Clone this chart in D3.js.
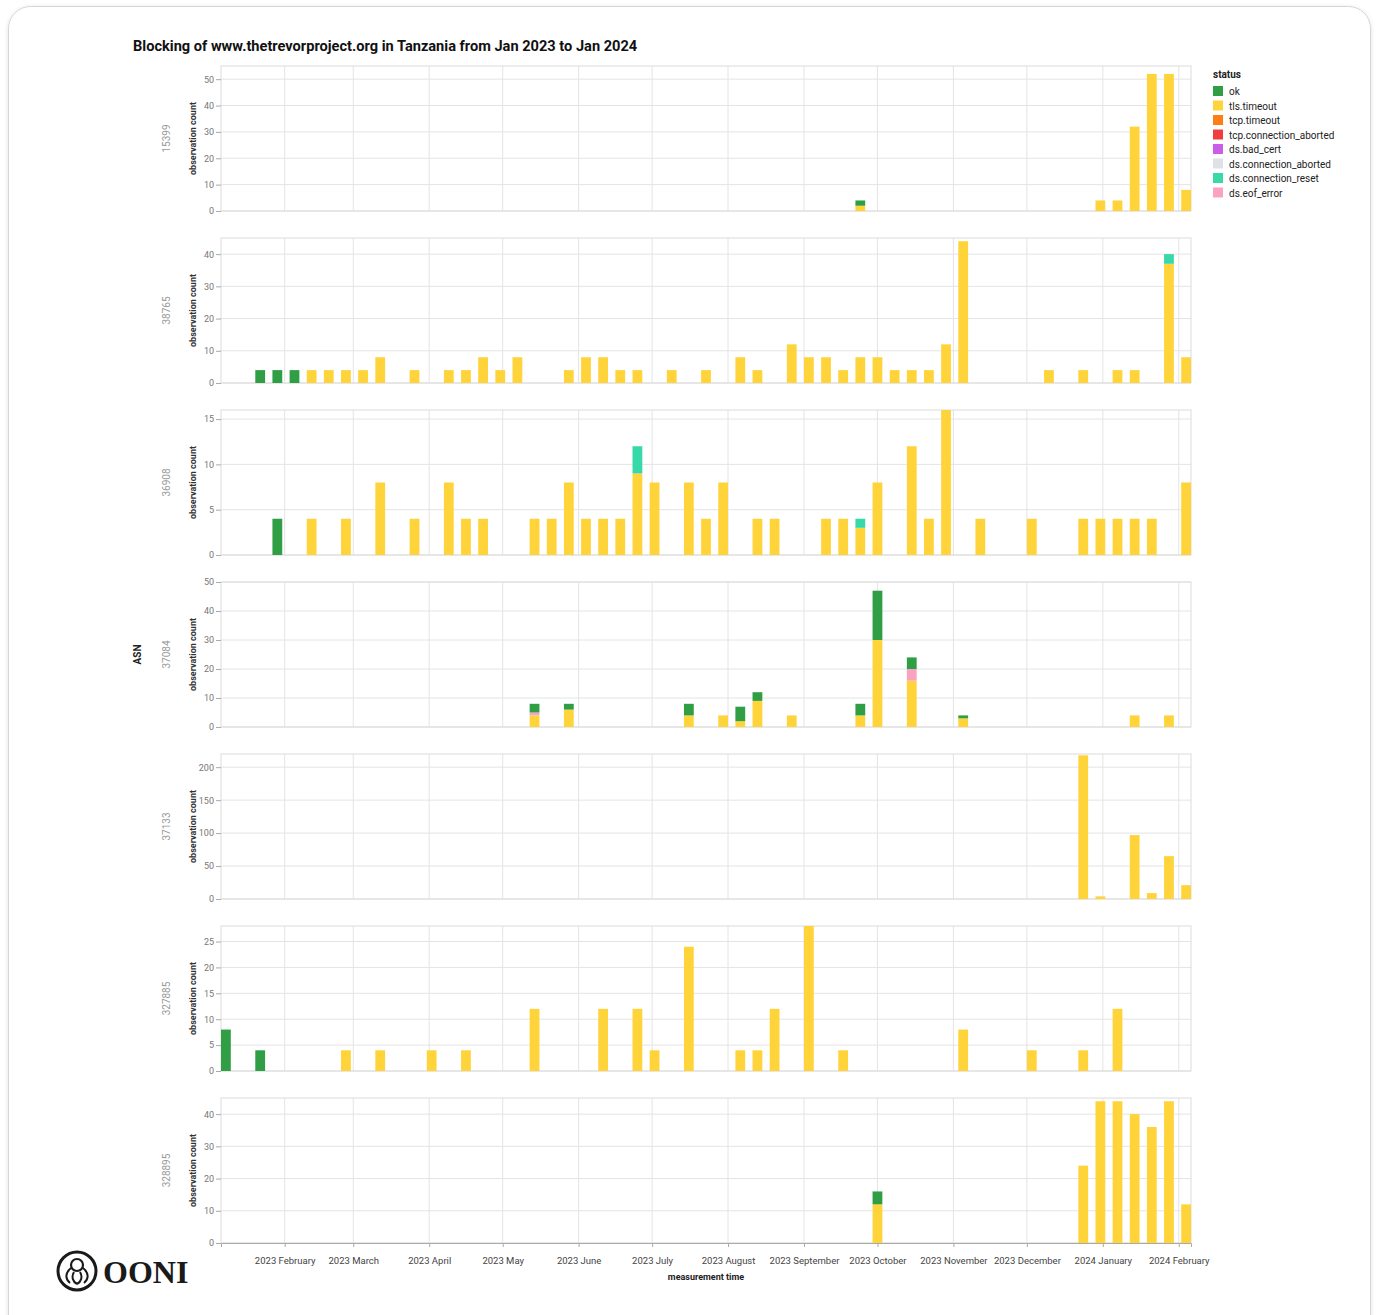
<!DOCTYPE html>
<html>
<head>
<meta charset="utf-8">
<script src="https://cdn.jsdelivr.net/npm/d3@7"></script>
<style>
  body { margin: 0; background: #fff; font-family: Roboto, "Noto Sans", sans-serif; }
  .tick text { font-family: Roboto, sans-serif; }
</style>
</head>
<body>
<script>
// weekly observation counts per ASN, columns = [week, ok, tls.timeout, ds.connection_reset, ds.eof_error]
var columns = ["ok", "tls.timeout", "ds.connection_reset", "ds.eof_error"];

var asn15399 = [
  ["2023-09-22", 2, 2, 0, 0],
  ["2023-12-29", 0, 4, 0, 0],
  ["2024-01-05", 0, 4, 0, 0],
  ["2024-01-12", 0, 32, 0, 0],
  ["2024-01-19", 0, 52, 0, 0],
  ["2024-01-26", 0, 52, 0, 0],
  ["2024-02-02", 0, 8, 0, 0]
];

var asn38765 = [
  ["2023-01-20", 4, 0, 0, 0], ["2023-01-27", 4, 0, 0, 0], ["2023-02-03", 4, 0, 0, 0],
  ["2023-02-10", 0, 4, 0, 0], ["2023-02-17", 0, 4, 0, 0], ["2023-02-24", 0, 4, 0, 0],
  ["2023-03-03", 0, 4, 0, 0], ["2023-03-10", 0, 8, 0, 0], ["2023-03-24", 0, 4, 0, 0],
  ["2023-04-07", 0, 4, 0, 0], ["2023-04-14", 0, 4, 0, 0], ["2023-04-21", 0, 8, 0, 0],
  ["2023-04-28", 0, 4, 0, 0], ["2023-05-05", 0, 8, 0, 0], ["2023-05-26", 0, 4, 0, 0],
  ["2023-06-02", 0, 8, 0, 0], ["2023-06-09", 0, 8, 0, 0], ["2023-06-16", 0, 4, 0, 0],
  ["2023-06-23", 0, 4, 0, 0], ["2023-07-07", 0, 4, 0, 0], ["2023-07-21", 0, 4, 0, 0],
  ["2023-08-04", 0, 8, 0, 0], ["2023-08-11", 0, 4, 0, 0], ["2023-08-25", 0, 12, 0, 0],
  ["2023-09-01", 0, 8, 0, 0], ["2023-09-08", 0, 8, 0, 0], ["2023-09-15", 0, 4, 0, 0],
  ["2023-09-22", 0, 8, 0, 0], ["2023-09-29", 0, 8, 0, 0], ["2023-10-06", 0, 4, 0, 0],
  ["2023-10-13", 0, 4, 0, 0], ["2023-10-20", 0, 4, 0, 0], ["2023-10-27", 0, 12, 0, 0],
  ["2023-11-03", 0, 44, 0, 0], ["2023-12-08", 0, 4, 0, 0], ["2023-12-22", 0, 4, 0, 0],
  ["2024-01-05", 0, 4, 0, 0], ["2024-01-12", 0, 4, 0, 0], ["2024-01-26", 0, 37, 3, 0],
  ["2024-02-02", 0, 8, 0, 0]
];

var asn36908 = [
  ["2023-01-27", 4, 0, 0, 0], ["2023-02-10", 0, 4, 0, 0], ["2023-02-24", 0, 4, 0, 0],
  ["2023-03-10", 0, 8, 0, 0], ["2023-03-24", 0, 4, 0, 0], ["2023-04-07", 0, 8, 0, 0],
  ["2023-04-14", 0, 4, 0, 0], ["2023-04-21", 0, 4, 0, 0], ["2023-05-12", 0, 4, 0, 0],
  ["2023-05-19", 0, 4, 0, 0], ["2023-05-26", 0, 8, 0, 0], ["2023-06-02", 0, 4, 0, 0],
  ["2023-06-09", 0, 4, 0, 0], ["2023-06-16", 0, 4, 0, 0], ["2023-06-23", 0, 9, 3, 0],
  ["2023-06-30", 0, 8, 0, 0], ["2023-07-14", 0, 8, 0, 0], ["2023-07-21", 0, 4, 0, 0],
  ["2023-07-28", 0, 8, 0, 0], ["2023-08-11", 0, 4, 0, 0], ["2023-08-18", 0, 4, 0, 0],
  ["2023-09-08", 0, 4, 0, 0], ["2023-09-15", 0, 4, 0, 0], ["2023-09-22", 0, 3, 1, 0],
  ["2023-09-29", 0, 8, 0, 0], ["2023-10-13", 0, 12, 0, 0], ["2023-10-20", 0, 4, 0, 0],
  ["2023-10-27", 0, 16, 0, 0], ["2023-11-10", 0, 4, 0, 0], ["2023-12-01", 0, 4, 0, 0],
  ["2023-12-22", 0, 4, 0, 0], ["2023-12-29", 0, 4, 0, 0], ["2024-01-05", 0, 4, 0, 0],
  ["2024-01-12", 0, 4, 0, 0], ["2024-01-19", 0, 4, 0, 0], ["2024-02-02", 0, 8, 0, 0]
];

var asn37084 = [
  ["2023-05-12", 3, 4, 0, 1], ["2023-05-26", 2, 6, 0, 0], ["2023-07-14", 4, 4, 0, 0],
  ["2023-07-28", 0, 4, 0, 0], ["2023-08-04", 5, 2, 0, 0], ["2023-08-11", 3, 9, 0, 0],
  ["2023-08-25", 0, 4, 0, 0], ["2023-09-22", 4, 4, 0, 0], ["2023-09-29", 17, 30, 0, 0],
  ["2023-10-13", 4, 16, 0, 4], ["2023-11-03", 1, 3, 0, 0], ["2024-01-12", 0, 4, 0, 0],
  ["2024-01-26", 0, 4, 0, 0]
];

var asn37133 = [
  ["2023-12-22", 0, 218, 0, 0], ["2023-12-29", 0, 4, 0, 0], ["2024-01-12", 0, 97, 0, 0],
  ["2024-01-19", 0, 9, 0, 0], ["2024-01-26", 0, 65, 0, 0], ["2024-02-02", 0, 21, 0, 0]
];

var asn327885 = [
  ["2023-01-06", 8, 0, 0, 0], ["2023-01-20", 4, 0, 0, 0], ["2023-02-24", 0, 4, 0, 0],
  ["2023-03-10", 0, 4, 0, 0], ["2023-03-31", 0, 4, 0, 0], ["2023-04-14", 0, 4, 0, 0],
  ["2023-05-12", 0, 12, 0, 0], ["2023-06-09", 0, 12, 0, 0], ["2023-06-23", 0, 12, 0, 0],
  ["2023-06-30", 0, 4, 0, 0], ["2023-07-14", 0, 24, 0, 0], ["2023-08-04", 0, 4, 0, 0],
  ["2023-08-11", 0, 4, 0, 0], ["2023-08-18", 0, 12, 0, 0], ["2023-09-01", 0, 28, 0, 0],
  ["2023-09-15", 0, 4, 0, 0], ["2023-11-03", 0, 8, 0, 0], ["2023-12-01", 0, 4, 0, 0],
  ["2023-12-22", 0, 4, 0, 0], ["2024-01-05", 0, 12, 0, 0]
];

var asn328895 = [
  ["2023-09-29", 4, 12, 0, 0], ["2023-12-22", 0, 24, 0, 0], ["2023-12-29", 0, 44, 0, 0],
  ["2024-01-05", 0, 44, 0, 0], ["2024-01-12", 0, 40, 0, 0], ["2024-01-19", 0, 36, 0, 0],
  ["2024-01-26", 0, 44, 0, 0], ["2024-02-02", 0, 12, 0, 0]
];

var asnNames = ["15399", "38765", "36908", "37084", "37133", "327885", "328895"];
var asnData = [asn15399, asn38765, asn36908, asn37084, asn37133, asn327885, asn328895];
var yMax = [55, 45, 16, 50, 220, 28, 45];

// legend order and colors
var statuses = ["ok", "tls.timeout", "tcp.timeout", "tcp.connection_aborted", "ds.bad_cert",
                "ds.connection_aborted", "ds.connection_reset", "ds.eof_error"];
var statusColors = ["#2f9e44", "#ffd43b", "#fd7e14", "#f03e3e", "#cc5de8", "#dee2e6", "#38d9a9", "#faa2c1"];
// bottom-up stacking order
var stackOrder = ["tls.timeout", "tcp.timeout", "tcp.connection_aborted", "ds.bad_cert",
                  "ds.connection_aborted", "ds.connection_reset", "ds.eof_error", "ok"];

var timeDomain = ["2023-01-06", "2024-02-06"];

// Set the dimensions
var W = 1378, H = 1315;
var left = 221, plotW = 970;
var firstTop = 66, panelStep = 172, panelH = 145;

var color = d3.scaleOrdinal().domain(statuses).range(statusColors);
var x = d3.scaleUtc()
  .domain(timeDomain.map(function(d) { return new Date(d); }))
  .range([left, left + plotW]);
var months = d3.utcMonth.range(new Date("2023-02-01"), new Date("2024-02-06"));

var svg = d3.select("body").append("svg")
  .attr("width", W)
  .attr("height", H);

// card with a soft shadow
var defs = svg.append("defs");
var f = defs.append("filter").attr("id", "shadow").attr("x", "-5%").attr("y", "-5%").attr("width", "110%").attr("height", "110%");
f.append("feDropShadow").attr("dx", 0).attr("dy", 1).attr("stdDeviation", 2).attr("flood-color", "#000").attr("flood-opacity", 0.12);

svg.append("rect")
  .attr("x", 8.5).attr("y", 6.5)
  .attr("width", 1362).attr("height", 1340)
  .attr("rx", 22)
  .attr("fill", "#fff")
  .attr("stroke", "#d6d6d6")
  .attr("filter", "url(#shadow)");

svg.append("text")
  .attr("x", 133).attr("y", 51)
  .style("font-size", "14.6px")
  .style("font-weight", "bold")
  .attr("fill", "#111")
  .text("Blocking of www.thetrevorproject.org in Tanzania from Jan 2023 to Jan 2024");

var stack = d3.stack().keys(stackOrder);

asnNames.forEach(function(name, i) {
  var top = firstTop + i * panelStep;
  var g = svg.append("g").attr("transform", "translate(0," + top + ")");

  var rows = asnData[i].map(function(r) {
    var o = { date: new Date(r[0]) };
    stackOrder.forEach(function(k) { o[k] = 0; });
    columns.forEach(function(c, j) { o[c] = r[j + 1]; });
    return o;
  });

  var y = d3.scaleLinear().domain([0, yMax[i]]).range([panelH, 0]);

  // grid
  g.append("g").selectAll("line").data(y.ticks(5)).enter().append("line")
    .attr("x1", left).attr("x2", left + plotW)
    .attr("y1", function(d) { return y(d); }).attr("y2", function(d) { return y(d); })
    .attr("stroke", "#e4e4e4");
  g.append("g").selectAll("line").data(months).enter().append("line")
    .attr("x1", function(d) { return x(d); }).attr("x2", function(d) { return x(d); })
    .attr("y1", 0).attr("y2", panelH)
    .attr("stroke", "#e4e4e4");
  g.append("rect")
    .attr("x", left).attr("y", 0)
    .attr("width", plotW).attr("height", panelH)
    .attr("fill", "none").attr("stroke", "#dcdcdc");

  // stacked bars
  var layers = stack(rows);
  g.append("g").selectAll("g").data(layers).enter().append("g")
    .attr("fill", function(d) { return color(d.key); })
    .selectAll("rect").data(function(d) { return d.filter(function(s) { return s[1] > s[0]; }); })
    .enter().append("rect")
      .attr("x", function(d) { return x(d.data.date); })
      .attr("width", function(d) { return x(d3.utcDay.offset(d.data.date, 4)) - x(d.data.date); })
      .attr("y", function(d) { return y(d[1]); })
      .attr("height", function(d) { return y(d[0]) - y(d[1]); });

  // y axis
  var ax = g.append("g")
    .attr("transform", "translate(" + left + ",0)")
    .call(d3.axisLeft(y).ticks(5).tickSize(5).tickPadding(2));
  ax.select(".domain").remove();
  ax.selectAll(".tick line").attr("stroke", "#aaa");
  ax.selectAll(".tick text").attr("fill", "#777").style("font-size", "9px");

  g.append("text")
    .attr("transform", "translate(196," + (panelH / 2) + ") rotate(-90)")
    .attr("text-anchor", "middle")
    .style("font-size", "9px").style("font-weight", "bold")
    .attr("fill", "#333")
    .text("observation count");

  g.append("text")
    .attr("transform", "translate(170," + (panelH / 2) + ") rotate(-90)")
    .attr("text-anchor", "middle")
    .style("font-size", "10px")
    .attr("fill", "#999")
    .text(name);
});

// ASN title
var lastBottom = firstTop + (asnNames.length - 1) * panelStep + panelH;
svg.append("text")
  .attr("transform", "translate(141," + ((firstTop + lastBottom) / 2) + ") rotate(-90)")
  .attr("text-anchor", "middle")
  .style("font-size", "10px").style("font-weight", "bold")
  .attr("fill", "#222")
  .text("ASN");

// x axis
var xAx = svg.append("g")
  .attr("transform", "translate(0," + lastBottom + ")")
  .call(d3.axisBottom(x).tickValues(months).tickFormat(d3.utcFormat("%Y %B")).tickSize(4).tickPadding(10));
xAx.select(".domain").attr("stroke", "#aaa");
xAx.selectAll(".tick line").attr("stroke", "#aaa");
xAx.selectAll(".tick text").attr("fill", "#444").style("font-size", "9.5px");

svg.append("text")
  .attr("x", left + plotW / 2).attr("y", lastBottom + 37)
  .attr("text-anchor", "middle")
  .style("font-size", "9px").style("font-weight", "bold")
  .attr("fill", "#222")
  .text("measurement time");

// legend
var legend = svg.append("g").attr("transform", "translate(1213,0)");
legend.append("text")
  .attr("x", 0).attr("y", 78)
  .style("font-size", "10px").style("font-weight", "bold")
  .attr("fill", "#222")
  .text("status");
var items = legend.selectAll(".item").data(statuses).enter().append("g")
  .attr("class", "item")
  .attr("transform", function(d, i) { return "translate(0," + (86 + i * 14.5) + ")"; });
items.append("rect")
  .attr("width", 10).attr("height", 10)
  .attr("fill", function(d) { return color(d); });
items.append("text")
  .attr("x", 16).attr("y", 9)
  .style("font-size", "10px")
  .attr("fill", "#222")
  .text(function(d) { return d; });

// OONI logo
var logo = svg.append("g").attr("transform", "translate(77,1271)");
logo.append("circle").attr("r", 19).attr("fill", "none").attr("stroke", "#1a1a1a").attr("stroke-width", 3);
logo.append("circle").attr("cx", 0).attr("cy", -6).attr("r", 6).attr("fill", "none").attr("stroke", "#1a1a1a").attr("stroke-width", 2.2);
logo.append("path")
  .attr("d", "M-6,-3 C-12,2 -12,8 -7,12 M-3,1 C-6,6 -4,11 0,13 M3,1 C6,6 4,11 0,13 M6,-3 C12,2 12,8 7,12")
  .attr("fill", "none").attr("stroke", "#1a1a1a").attr("stroke-width", 2);
svg.append("text")
  .attr("x", 103).attr("y", 1283)
  .style("font-family", "'Liberation Serif', serif")
  .style("font-size", "32px").style("font-weight", "bold")
  .attr("fill", "#1a1a1a")
  .text("OONI");
</script>
</body>
</html>
